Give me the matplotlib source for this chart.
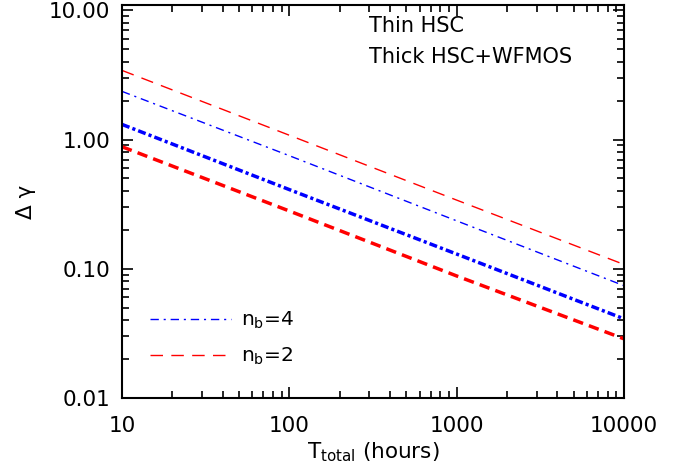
import numpy as np
import matplotlib
matplotlib.use('Agg')
from matplotlib import pyplot as plt
from matplotlib.ticker import FixedLocator, FixedFormatter, LogLocator, NullFormatter

# values
t_total = [10, 100, 1000, 10000]
thin_nb2 = [3.43, 1.08, 0.34, 0.108]    # thin red dashed
thin_nb4 = [2.36, 0.75, 0.235, 0.074]   # thin blue dash-dot
thick_nb4 = [1.31, 0.41, 0.13, 0.041]   # thick blue dash-dot
thick_nb2 = [0.88, 0.28, 0.088, 0.0287] # thick red dashed

xticks = [10, 100, 1000, 10000]
xlabels = ['10', '100', '1000', '10000']
yticks = [0.01, 0.1, 1, 10]
ylabels = ['0.01', '0.10', '1.00', '10.00']

plt.rcParams['font.family'] = 'DejaVu Sans'
plt.rcParams['mathtext.fontset'] = 'dejavusans'

fig = plt.figure(figsize=(6.84, 4.72), dpi=100)
ax = fig.add_axes([122/684, 1-398/472, (624-122)/684, (398-5)/472])

#line styles (dashes scale with lw)
thin_dash = (9, 6)
thin_dashdot = (6, 3.5, 1.5, 3.5)
thick_dash = (3.0, 1.8)
thick_dashdot = (2.3, 0.9, 0.9, 0.9)

ax.plot(t_total, thin_nb2, color='red', lw=1.0, dashes=thin_dash)
ax.plot(t_total, thin_nb4, color='blue', lw=1.0, dashes=thin_dashdot)
ax.plot(t_total, thick_nb4, color='blue', lw=2.5, dashes=thick_dashdot)
ax.plot(t_total, thick_nb2, color='red', lw=2.5, dashes=thick_dash)

ax.set_xscale('log')
ax.set_yscale('log')
ax.set_xlim(10, 10000)
ax.set_ylim(0.01, 11.0)

ax.xaxis.set_major_locator(FixedLocator(xticks))
ax.xaxis.set_major_formatter(FixedFormatter(xlabels))
ax.yaxis.set_major_locator(FixedLocator(yticks))
ax.yaxis.set_major_formatter(FixedFormatter(ylabels))
ax.xaxis.set_minor_locator(LogLocator(base=10, subs=np.arange(2, 10)))
ax.yaxis.set_minor_locator(LogLocator(base=10, subs=np.arange(2, 10)))
ax.xaxis.set_minor_formatter(NullFormatter())
ax.yaxis.set_minor_formatter(NullFormatter())

ax.tick_params(which='both', direction='in', top=True, right=True, labelsize=15.5, width=1.2)
ax.tick_params(which='major', length=8)
ax.tick_params(which='minor', length=5)
ax.tick_params(axis='x', which='major', pad=13)
ax.tick_params(axis='y', which='major', pad=8.5)
for s in ax.spines.values():
    s.set_linewidth(1.5)

ax.set_xlabel(r'T$_{\rm total}$ (hours)', fontsize=15.5, labelpad=3)
ax.set_ylabel('Δ γ', fontsize=15.5, labelpad=9)

#annotations top right
ax.text(0.493, 0.947, 'Thin HSC', transform=ax.transAxes, fontsize=15, va='center')
ax.text(0.493, 0.868, 'Thick HSC+WFMOS', transform=ax.transAxes, fontsize=15, va='center')

#hand drawn legend
l1, = ax.plot([], [], color='blue', lw=1.0, dashes=thin_dashdot)
l2, = ax.plot([], [], color='red', lw=1.0, dashes=thin_dash)
ax.legend([l1, l2], [r'n$_{\rm b}$=4', r'n$_{\rm b}$=2'], loc='upper left',
          bbox_to_anchor=(0.0557, 0.225), frameon=False, fontsize=14.5,
          handlelength=4.0, handletextpad=0.5, labelspacing=0.75,
          borderpad=0, borderaxespad=0)

fig.savefig('out.png', dpi=100)
